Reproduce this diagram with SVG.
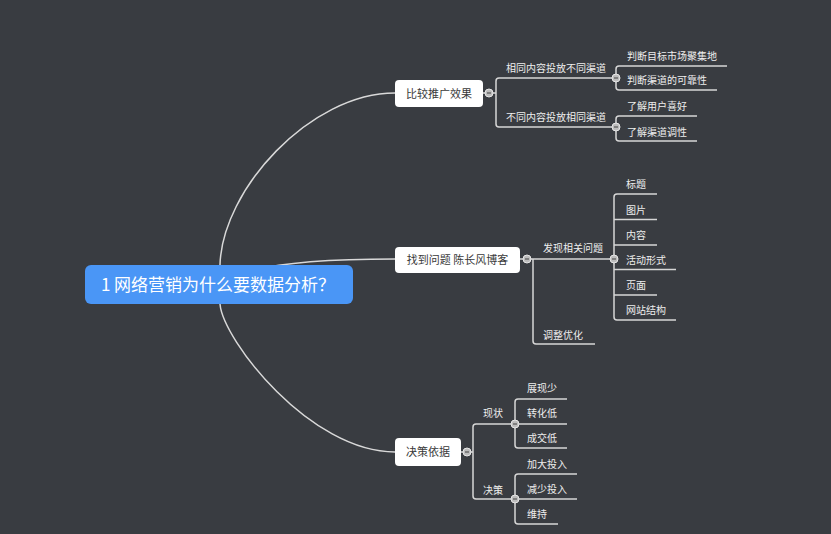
<svg xmlns="http://www.w3.org/2000/svg" width="831" height="534" viewBox="0 0 831 534">
<style>
.bg{fill:#393c41}
.ln{fill:none;stroke:#d6d6d6;stroke-width:1.5}
.main{fill:none;stroke:#d9d9d9;stroke-width:1.5}
.root rect{fill:#4a96f6}
.root text{fill:#ffffff;font-size:17px}
.l1 rect{fill:#ffffff}
.l1 text{fill:#3a3a3a;font-size:11px}
.t{fill:#eeeeee;font-size:10px}
text{font-family:"Noto Sans CJK SC","Noto Sans",sans-serif}
.c circle{fill:#bdbdbd;stroke:#e6e6e6;stroke-width:1}
.c path{stroke:#555;stroke-width:1.2}
</style>
<rect class="bg" x="0" y="0" width="831" height="534"/>
<g id="connectors">
<path class="main" d="M220,265 C222,190 310,93 395,93"/>
<path class="main" d="M240,275 C270,262 330,259 395,259"/>
<path class="main" d="M220,304 C223,340 310,452 395,452"/>
<path class="ln" d="M483,93 H496 M496,93 V81 Q496,78 499,78 H615 M496,93 V124 Q496,127 499,127 H615"/>
<path class="ln" d="M616,78 V69 Q616,66 619,66 H727 M616,78 V87 Q616,90 619,90 H717"/>
<path class="ln" d="M616,127 V119 Q616,116 619,116 H697 M616,127 V138 Q616,141 619,141 H697"/>
<path class="ln" d="M520,259 H614 M533,259 V341 Q533,344 536,344 H595"/>
<path class="ln" d="M614,259 V197 Q614,194 617,194 H657 M614,259 V317 Q614,320 617,320 H676 M614,219.5 H657 M614,245 H657 M614,269.5 H676 M614,295 H657"/>
<path class="ln" d="M461,452 H473 M473,452 V427 Q473,424 476,424 H515 M473,452 V496 Q473,499 476,499 H515"/>
<path class="ln" d="M515,424 V402 Q515,399 518,399 H567 M515,424 H567 M515,424 V445 Q515,448 518,448 H567"/>
<path class="ln" d="M515,499 V477 Q515,474 518,474 H577 M515,499 H577 M515,499 V521 Q515,524 518,524 H558"/>
</g>
<g id="root" class="root">
<rect x="85" y="265" width="268" height="39" rx="6"/>
<text x="218" y="291" text-anchor="middle">1 网络营销为什么要数据分析？</text>
</g>
<g id="n-compare" class="l1">
<rect x="395" y="80" width="88" height="27" rx="4"/>
<text x="439" y="97.5" text-anchor="middle">比较推广效果</text>
</g>
<g id="n-find" class="l1">
<rect x="395" y="247" width="125" height="26" rx="4"/>
<text x="457.5" y="264" text-anchor="middle">找到问题 陈长风博客</text>
</g>
<g id="n-decide" class="l1">
<rect x="395" y="438" width="66" height="28" rx="4"/>
<text x="428" y="456" text-anchor="middle">决策依据</text>
</g>
<g id="n-same"><text class="t" x="506" y="72">相同内容投放不同渠道</text></g>
<g id="n-diff"><text class="t" x="506" y="121">不同内容投放相同渠道</text></g>
<g id="n-a1"><text class="t" x="627" y="60">判断目标市场聚集地</text></g>
<g id="n-a2"><text class="t" x="627" y="84">判断渠道的可靠性</text></g>
<g id="n-b1"><text class="t" x="627" y="110">了解用户喜好</text></g>
<g id="n-b2"><text class="t" x="627" y="135.5">了解渠道调性</text></g>
<g id="n-discover"><text class="t" x="543" y="251.5">发现相关问题</text></g>
<g id="n-adjust"><text class="t" x="543" y="339">调整优化</text></g>
<g id="n-d1"><text class="t" x="626" y="188">标题</text></g>
<g id="n-d2"><text class="t" x="626" y="213.5">图片</text></g>
<g id="n-d3"><text class="t" x="626" y="238.5">内容</text></g>
<g id="n-d4"><text class="t" x="626" y="263.5">活动形式</text></g>
<g id="n-d5"><text class="t" x="626" y="289">页面</text></g>
<g id="n-d6"><text class="t" x="626" y="314">网站结构</text></g>
<g id="n-status"><text class="t" x="483" y="417">现状</text></g>
<g id="n-decision"><text class="t" x="483" y="494">决策</text></g>
<g id="n-s1"><text class="t" x="527" y="392">展现少</text></g>
<g id="n-s2"><text class="t" x="527" y="417">转化低</text></g>
<g id="n-s3"><text class="t" x="527" y="442">成交低</text></g>
<g id="n-e1"><text class="t" x="527" y="468">加大投入</text></g>
<g id="n-e2"><text class="t" x="527" y="493">减少投入</text></g>
<g id="n-e3"><text class="t" x="527" y="518">维持</text></g>
<g id="collapse" class="c">
<circle cx="489" cy="93" r="4"/><path d="M487,93 H491"/>
<circle cx="616" cy="78" r="4"/><path d="M614,78 H618"/>
<circle cx="616" cy="127" r="4"/><path d="M614,127 H618"/>
<circle cx="527" cy="259" r="4"/><path d="M525,259 H529"/>
<circle cx="614" cy="259" r="4"/><path d="M612,259 H616"/>
<circle cx="467" cy="452" r="4"/><path d="M465,452 H469"/>
<circle cx="515" cy="424" r="4"/><path d="M513,424 H517"/>
<circle cx="515" cy="499" r="4"/><path d="M513,499 H517"/>
</g>
</svg>
